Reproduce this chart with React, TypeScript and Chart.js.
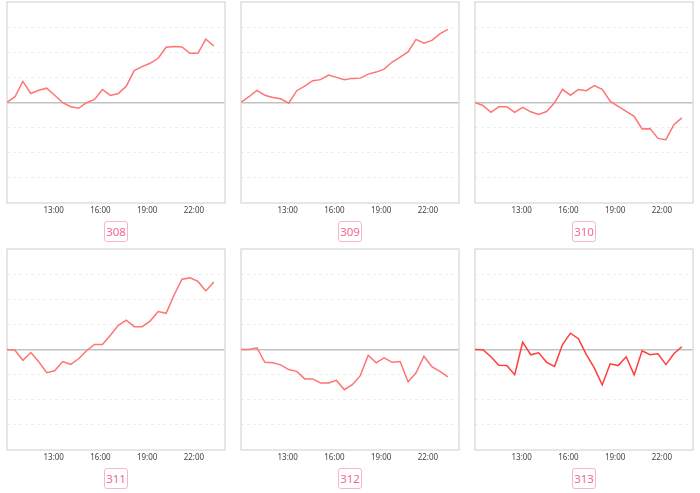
import React, { useEffect, useRef } from 'react';
import { Chart, registerables } from 'chart.js';

Chart.register(...registerables);

// hours of day for each sample (shared by all panels)
const times = [
  10.0, 10.51, 11.02, 11.53, 12.04, 12.55, 13.06, 13.58, 14.09, 14.6, 15.11, 15.62, 16.13, 16.64,
  17.15, 17.66, 18.17, 18.68, 19.19, 19.71, 20.22, 20.73, 21.24, 21.75, 22.26, 22.77, 23.28,
];

const xTickValues = [13, 16, 19, 22];
const xTickLabels = ['13:00', '16:00', '19:00', '22:00'];
const xMin = 10;
const xMax = 24;
const yMin = -4;
const yMax = 4;

const panelLabels = ['308', '309', '310', '311', '312', '313'];

const series308 = [
  0, 0.23, 0.84, 0.36, 0.49, 0.57, 0.29, -0.01, -0.17, -0.23, -0.01, 0.12, 0.52, 0.28, 0.36, 0.65,
  1.27, 1.43, 1.56, 1.76, 2.2, 2.23, 2.21, 1.96, 1.96, 2.52, 2.25,
];
const series309 = [
  0, 0.23, 0.48, 0.29, 0.2, 0.15, -0.03, 0.47, 0.65, 0.87, 0.91, 1.09, 1.0, 0.91, 0.96, 0.97, 1.13,
  1.21, 1.33, 1.61, 1.81, 2.01, 2.51, 2.36, 2.47, 2.73, 2.91,
];
const series310 = [
  0, -0.12, -0.39, -0.17, -0.17, -0.39, -0.19, -0.37, -0.48, -0.36, -0.01, 0.52, 0.29, 0.52, 0.47,
  0.67, 0.52, 0.05, -0.15, -0.35, -0.55, -1.05, -1.04, -1.43, -1.48, -0.88, -0.61,
];
const series311 = [
  0, -0.03, -0.43, -0.12, -0.49, -0.92, -0.85, -0.48, -0.59, -0.37, -0.05, 0.2, 0.2, 0.57, 0.96,
  1.17, 0.91, 0.91, 1.13, 1.51, 1.44, 2.17, 2.8, 2.85, 2.71, 2.33, 2.69,
];
const series312 = [
  0, 0, 0.07, -0.51, -0.53, -0.61, -0.8, -0.87, -1.17, -1.17, -1.33, -1.33, -1.23, -1.6, -1.4,
  -1.04, -0.23, -0.53, -0.33, -0.51, -0.48, -1.29, -0.93, -0.27, -0.68, -0.87, -1.09,
];
const series313 = [
  0, -0.01, -0.29, -0.63, -0.64, -1.0, 0.29, -0.21, -0.13, -0.51, -0.67, 0.2, 0.65, 0.43, -0.2,
  -0.73, -1.41, -0.57, -0.64, -0.29, -1.01, -0.05, -0.21, -0.17, -0.6, -0.17, 0.11,
];

const allSeries = [series308, series309, series310, series311, series312, series313];
const lineColors = ['#ff7474', '#ff7474', '#ff7474', '#ff7474', '#ff7474', '#ff3d3d'];

// layout
const colLefts = [7, 241, 475];
const rowTops = [2, 249];
const plotW = 218;
const plotH = 201;
const pad = 2;
const axisH = 20;

const framePlugin = {
  id: 'frame',
  beforeDatasetsDraw(chart: any) {
    const { ctx, chartArea } = chart;
    const { left, top, right, bottom } = chartArea;
    ctx.save();
    ctx.strokeStyle = '#dedede';
    ctx.lineWidth = 1.5;
    ctx.strokeRect(left, top, right - left, bottom - top);
    ctx.restore();
  },
};

function Panel({ values, color, label, left, top }: any) {
  const ref = useRef<HTMLCanvasElement | null>(null);
  useEffect(() => {
    if (!ref.current) return;
    const chart = new Chart(ref.current, {
      type: 'line',
      data: {
        datasets: [
          {
            data: times.map((t, i) => ({ x: t, y: values[i] })),
            borderColor: color,
            borderWidth: 1.5,
            pointRadius: 0,
            tension: 0,
            fill: false,
          },
        ],
      },
      options: {
        animation: false,
        responsive: false,
        layout: { padding: { left: pad, right: pad, top: pad, bottom: 0 } },
        plugins: { legend: { display: false }, tooltip: { enabled: false } },
        events: [],
        scales: {
          x: {
            type: 'linear',
            min: xMin,
            max: xMax,
            afterBuildTicks: (scale: any) => {
              scale.ticks = xTickValues.map((v) => ({ value: v }));
            },
            afterFit: (scale: any) => {
              scale.height = axisH;
            },
            ticks: {
              autoSkip: false,
              maxRotation: 0,
              padding: 3,
              color: '#444',
              font: { family: 'Noto Sans', size: 8 },
              callback: (v: any) => {
                const i = xTickValues.indexOf(Number(v));
                return i >= 0 ? xTickLabels[i] : '';
              },
            },
            grid: { display: false, drawTicks: false },
            border: { display: false },
          },
          y: {
            min: yMin,
            max: yMax,
            afterFit: (scale: any) => {
              scale.width = 0;
            },
            ticks: { display: false, stepSize: 1 },
            grid: {
              drawTicks: false,
              color: (c: any) => {
                const v = c.tick ? c.tick.value : 0;
                if (v === 0) return '#c2c2c2';
                if (Math.abs(v) === 4) return 'rgba(0,0,0,0)';
                return '#eeeeee';
              },
              lineWidth: (c: any) => (c.tick && c.tick.value === 0 ? 1.5 : 1),
            },
            border: {
              display: false,
              dash: (c: any) => (c.tick && c.tick.value === 0 ? [] : [3, 3]),
            },
          },
        },
      } as any,
      plugins: [framePlugin],
    });
    return () => chart.destroy();
  }, [values, color]);

  const cw = plotW + pad * 2;
  const ch = plotH + pad + axisH;
  return (
    <>
      <canvas
        ref={ref}
        width={cw}
        height={ch}
        style={{ position: 'absolute', left: left - pad, top: top - pad, width: cw, height: ch }}
      />
      <div
        style={{
          position: 'absolute',
          left: left + plotW / 2 - 12,
          top: top + 219,
          width: 22,
          height: 19,
          border: '1px solid #f7b6cb',
          borderRadius: 3,
          color: '#ee6c92',
          fontFamily: 'Noto Sans, sans-serif',
          fontSize: 11.5,
          display: 'flex',
          alignItems: 'center',
          justifyContent: 'center',
          lineHeight: 1,
          background: '#fff',
        }}
      >
        {label}
      </div>
    </>
  );
}

export default function App() {
  return (
    <div style={{ position: 'fixed', left: 0, top: 0, width: 700, height: 493, background: '#fff', overflow: 'hidden' }}>
      {allSeries.map((s, i) => (
        <Panel
          key={panelLabels[i]}
          values={s}
          color={lineColors[i]}
          label={panelLabels[i]}
          left={colLefts[i % 3]}
          top={rowTops[Math.floor(i / 3)]}
        />
      ))}
    </div>
  );
}
